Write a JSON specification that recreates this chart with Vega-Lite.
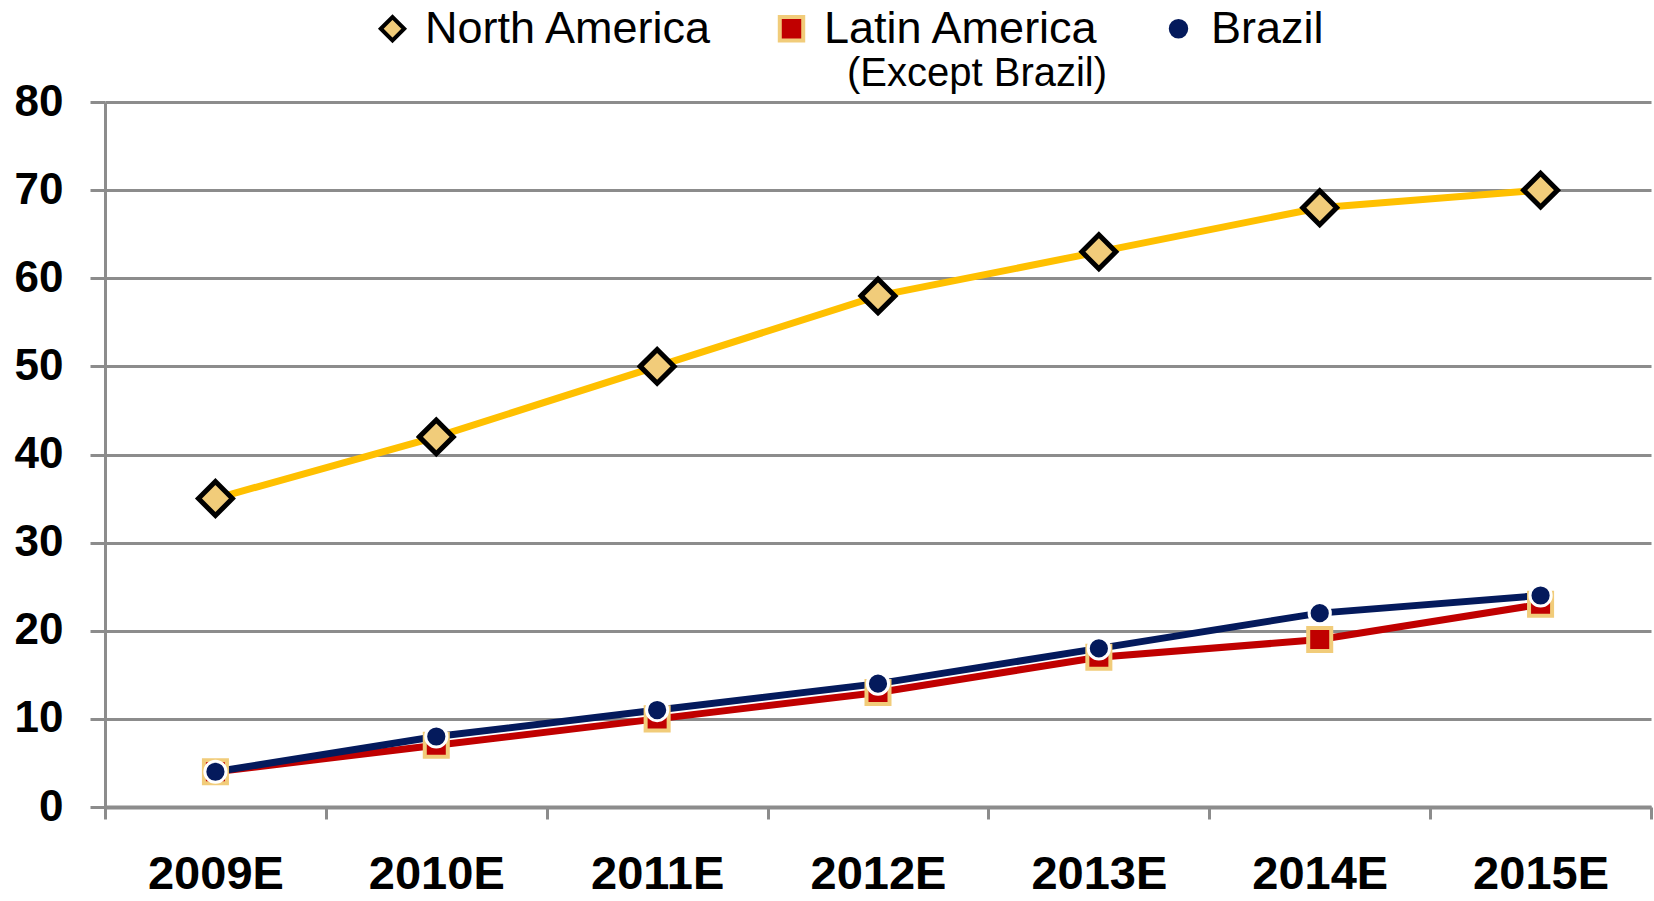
{
  "$schema": "https://vega.github.io/schema/vega-lite/v6.json",
  "width": 1546,
  "height": 705,
  "autosize": {"type": "none"},
  "padding": {"left": 105, "top": 102, "right": 3, "bottom": 94},
  "background": "white",
  "data": {
    "values": [
      {"year": "2009E", "series": "North America", "value": 35},
      {"year": "2010E", "series": "North America", "value": 42},
      {"year": "2011E", "series": "North America", "value": 50},
      {"year": "2012E", "series": "North America", "value": 58},
      {"year": "2013E", "series": "North America", "value": 63},
      {"year": "2014E", "series": "North America", "value": 68},
      {"year": "2015E", "series": "North America", "value": 70},
      {"year": "2009E", "series": "Latin America", "value": 4},
      {"year": "2010E", "series": "Latin America", "value": 7},
      {"year": "2011E", "series": "Latin America", "value": 10},
      {"year": "2012E", "series": "Latin America", "value": 13},
      {"year": "2013E", "series": "Latin America", "value": 17},
      {"year": "2014E", "series": "Latin America", "value": 19},
      {"year": "2015E", "series": "Latin America", "value": 23},
      {"year": "2009E", "series": "Brazil", "value": 4},
      {"year": "2010E", "series": "Brazil", "value": 8},
      {"year": "2011E", "series": "Brazil", "value": 11},
      {"year": "2012E", "series": "Brazil", "value": 14},
      {"year": "2013E", "series": "Brazil", "value": 18},
      {"year": "2014E", "series": "Brazil", "value": 22},
      {"year": "2015E", "series": "Brazil", "value": 24}
    ]
  },
  "encoding": {
    "x": {
      "field": "year",
      "type": "nominal",
      "sort": null,
      "scale": {"type": "band", "paddingInner": 0, "paddingOuter": 0},
      "axis": {
        "title": null,
        "labelAngle": 0,
        "labelFont": "Liberation Sans",
        "labelFontWeight": "bold",
        "labelFontSize": 47,
        "labelColor": "black",
        "labelPadding": 32,
        "domainColor": "#8C8C8C",
        "domainWidth": 4,
        "tickColor": "#8C8C8C",
        "tickWidth": 3,
        "tickSize": 12,
        "tickBand": "extent",
        "grid": false
      }
    },
    "y": {
      "field": "value",
      "type": "quantitative",
      "scale": {"domain": [0, 80], "nice": false, "zero": true},
      "axis": {
        "title": null,
        "values": [0, 10, 20, 30, 40, 50, 60, 70, 80],
        "labelFont": "Liberation Sans",
        "labelFontWeight": "bold",
        "labelFontSize": 44,
        "labelColor": "black",
        "labelPadding": 27,
        "domainColor": "#8C8C8C",
        "domainWidth": 3,
        "tickColor": "#8C8C8C",
        "tickWidth": 3,
        "tickSize": 15,
        "grid": true,
        "gridColor": "#8C8C8C",
        "gridWidth": 3
      }
    }
  },
  "layer": [
    {
      "mark": {"type": "line", "strokeWidth": 7},
      "encoding": {
        "color": {
          "field": "series",
          "type": "nominal",
          "scale": {"range": ["#041A5C", "#C00000", "#FFC000"]},
          "legend": null
        }
      }
    },
    {
      "encoding": {
        "shape": {
          "field": "series",
          "type": "nominal",
          "scale": {"domain": ["North America", "Latin America", "Brazil"], "range": ["diamond", "square", "circle"]},
          "legend": {
            "title": "(Except Brazil)",
            "titleOrient": "bottom",
            "titleAnchor": "middle",
            "titleAlign": "left",
            "titleFont": "Liberation Sans",
            "titleFontSize": 40,
            "titleFontWeight": "normal",
            "titleColor": "black",
            "titlePadding": 2,
            "titleLimit": 800,
            "orient": "none",
            "direction": "horizontal",
            "legendX": 265,
            "legendY": -96,
            "padding": 0,
            "labelFont": "Liberation Sans",
            "labelFontSize": 45,
            "labelColor": "black",
            "labelLimit": 500,
            "labelOffset": 10,
            "columnPadding": 56,
            "symbolSize": 550,
            "symbolStrokeWidth": 4
          }
        },
        "fill": {
          "field": "series",
          "type": "nominal",
          "scale": {"domain": ["North America", "Latin America", "Brazil"], "range": ["#F1CC7A", "#C00000", "#041A5C"]}
        },
        "stroke": {
          "field": "series",
          "type": "nominal",
          "scale": {"domain": ["North America", "Latin America", "Brazil"], "range": ["#000000", "#F1CC7A", "#FFFFFF"]}
        }
      },
      "layer": [
        {
          "transform": [{"filter": "datum.series == 'North America'"}],
          "mark": {"type": "point", "opacity": 1, "filled": true, "size": 1150, "strokeWidth": 5}
        },
        {
          "transform": [{"filter": "datum.series == 'Latin America'"}],
          "mark": {"type": "point", "opacity": 1, "filled": true, "size": 530, "strokeWidth": 4}
        },
        {
          "transform": [{"filter": "datum.series == 'Brazil'"}],
          "mark": {"type": "point", "opacity": 1, "filled": true, "size": 450, "strokeWidth": 3}
        }
      ]
    }
  ],
  "config": {
    "view": {"stroke": null}
  }
}
